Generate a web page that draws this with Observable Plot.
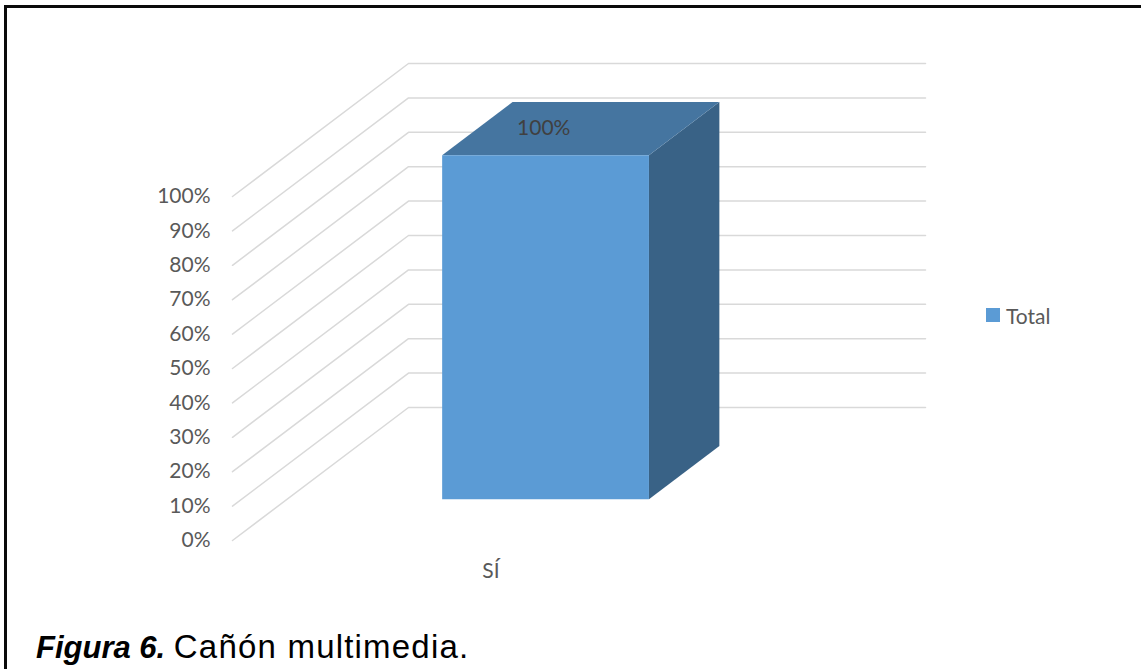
<!DOCTYPE html>
<html>
<head>
<meta charset="utf-8">
<script src="https://cdn.jsdelivr.net/npm/d3@7"></script>
<script src="https://cdn.jsdelivr.net/npm/@observablehq/plot@0.6"></script>
<style>
  html, body { margin: 0; padding: 0; background: #fff; width: 1141px; height: 669px; overflow: hidden; }
  #chart { position: absolute; left: 0; top: 0; }
  .bt { position: absolute; left: 4px; top: 5px; width: 1137px; height: 3px; background: #0a0a0a; z-index: 5; }
  .bl { position: absolute; left: 4px; top: 5px; width: 3px; height: 664px; background: #0a0a0a; z-index: 5; }
  #legend { position: absolute; left: 986px; top: 302px; height: 26px; font: 21px Lato, sans-serif; color: #595959; display: flex; align-items: center; }
  #legend .sw { width: 14px; height: 14px; margin-right: 6px; }
  #caption { position: absolute; left: 36px; top: 630px; font: 31px "Liberation Sans", Arial, sans-serif; line-height: 1; color: #000; white-space: nowrap; }
  #caption b { font-style: italic; font-weight: bold; }
  #caption span { font-size: 33px; letter-spacing: 1.2px; }
</style>
</head>
<body>
<div id="chart"></div>
<div class="bt"></div>
<div class="bl"></div>
<div id="legend"></div>
<div id="caption"></div>
<script>
// ---- data ----
const categories = ["SÍ"];
const values = [1.0];
const seriesName = "Total";
const yTicks = [0, 0.1, 0.2, 0.3, 0.4, 0.5, 0.6, 0.7, 0.8, 0.9, 1.0];
const captionBold = "Figura 6.";
const captionText = "Cañón multimedia.";

// ---- styling / projection ----
const colFront = "#5B9BD5", colTop = "#4575A0", colSide = "#396286";
const gridColor = "#D9D9D9";
const DX = 176 / 517, DY = 133 / 344;   // oblique depth vector in data units
const dFront = 0.31, dBack = 0.71;       // bar depth extent
const barHalf = 0.2;                      // half bar width as fraction of band
const fmt = d3.format(".0%");
const proj = (x, y, d) => ({x: x + d * DX, y: y + d * DY});

const n = categories.length;
const gridPts = yTicks.flatMap(v => [
  {tick: v, ...proj(0, v, 0)},
  {tick: v, ...proj(0, v, 1)},
  {tick: v, ...proj(1, v, 1)}
]);
const frontPts = [], topPts = [], sidePts = [], valLabels = [], catLabels = [];
categories.forEach((c, i) => {
  const v = values[i];
  const cx = (i + 0.5) / n, x0 = cx - barHalf / n, x1 = cx + barHalf / n;
  [proj(x0, 0, dFront), proj(x1, 0, dFront), proj(x1, v, dFront), proj(x0, v, dFront)]
    .forEach(p => frontPts.push({k: c, ...p}));
  [proj(x0, v, dFront), proj(x1, v, dFront), proj(x1, v, dBack), proj(x0, v, dBack)]
    .forEach(p => topPts.push({k: c, ...p}));
  [proj(x1, 0, dFront), proj(x1, 0, dBack), proj(x1, v, dBack), proj(x1, v, dFront)]
    .forEach(p => sidePts.push({k: c, ...p}));
  valLabels.push({text: fmt(v), ...proj(cx, v, (dFront + dBack) / 2)});
  catLabels.push({text: c, x: cx, y: 0});
});

const chart = Plot.plot({
  width: 1141,
  height: 600,
  marginTop: 196,
  marginBottom: 60,
  marginLeft: 232,
  marginRight: 392,
  style: {fontFamily: "Lato, sans-serif", fontSize: "21px", color: "#595959", background: "transparent", overflow: "visible"},
  x: {domain: [0, 1], axis: null},
  y: {domain: [0, 1], ticks: yTicks, tickFormat: fmt, tickSize: 0, tickPadding: 22, label: null},
  marks: [
    Plot.line(gridPts, {x: "x", y: "y", z: "tick", stroke: gridColor, strokeWidth: 1.5}),
    Plot.line(sidePts, {x: "x", y: "y", z: "k", fill: colSide, stroke: "none", curve: "linear-closed"}),
    Plot.line(topPts, {x: "x", y: "y", z: "k", fill: colTop, stroke: "none", curve: "linear-closed"}),
    Plot.line(frontPts, {x: "x", y: "y", z: "k", fill: colFront, stroke: "none", curve: "linear-closed"}),
    Plot.text(valLabels, {x: "x", y: "y", text: "text", dx: -37, fill: "#404040", fontSize: 21}),
    Plot.text(catLabels, {x: "x", y: "y", text: "text", dy: 31, fill: "#595959", fontSize: 21})
  ]
});
document.getElementById("chart").appendChild(chart);

document.getElementById("legend").innerHTML =
  `<span class="sw" style="background:${colFront}"></span><span>${seriesName}</span>`;
document.getElementById("caption").innerHTML = `<b>${captionBold}</b> <span>${captionText}</span>`;
</script>
</body>
</html>
